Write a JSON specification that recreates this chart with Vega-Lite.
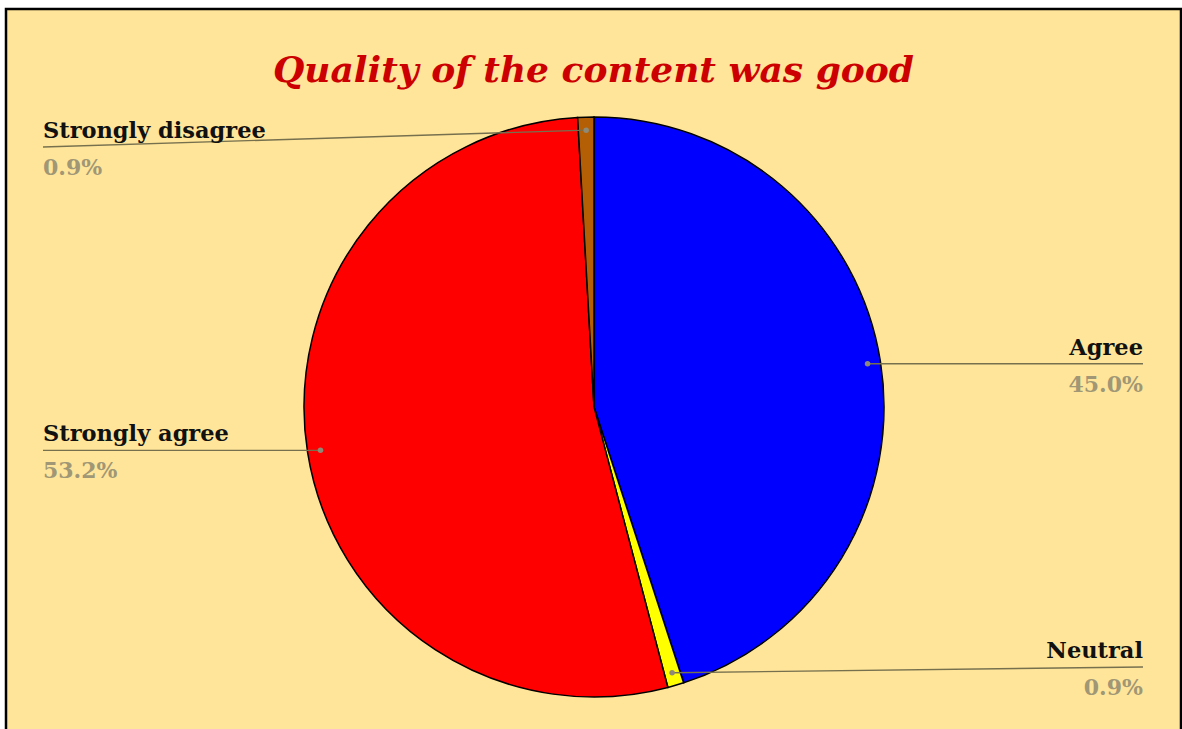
{
  "$schema": "https://vega.github.io/schema/vega-lite/v6.json",
  "width": 1175,
  "height": 722,
  "autosize": {"type": "none"},
  "padding": {"left": 6, "top": 9, "right": 1, "bottom": -2},
  "background": "white",
  "config": {
    "view": {"fill": "#FFE599", "stroke": "black", "strokeWidth": 2.5},
    "font": "DejaVu Serif"
  },
  "title": {
    "text": "Quality of the content was good",
    "font": "DejaVu Serif",
    "fontStyle": "italic",
    "fontWeight": "bold",
    "fontSize": 36,
    "color": "#CC0000",
    "anchor": "middle",
    "frame": "group",
    "baseline": "alphabetic",
    "offset": -109
  },
  "data": {
    "values": [
      {"category": "Agree", "pct": 45.0},
      {"category": "Neutral", "pct": 0.9},
      {"category": "Strongly agree", "pct": 53.2},
      {"category": "Strongly disagree", "pct": 0.9}
    ]
  },
  "transform": [
    {"window": [{"op": "sum", "field": "pct", "as": "cum"}], "sort": [{"field": "category", "order": "ascending"}], "frame": [null, 0]},
    {"joinaggregate": [{"op": "sum", "field": "pct", "as": "total"}]},
    {"calculate": "2 * PI * (datum.cum - datum.pct / 2) / datum.total", "as": "mid"},
    {"calculate": "0.955 * sin(datum.mid)", "as": "dx"},
    {"calculate": "0.955 * cos(datum.mid)", "as": "dy"},
    {"calculate": "datum.dx >= 0 ? 'right' : 'left'", "as": "side"},
    {"calculate": "datum.dx >= 0 ? 1.893 : -1.9", "as": "ex"},
    {"calculate": "clamp(datum.dy, -0.8966, 0.8966)", "as": "ly"},
    {"calculate": "format(datum.pct, '.1f') + '%'", "as": "label"}
  ],
  "layer": [
    {
      "mark": {"type": "arc", "outerRadius": 290, "stroke": "black", "strokeWidth": 1.5},
      "encoding": {
        "theta": {"field": "pct", "type": "quantitative", "stack": true},
        "order": {"field": "category", "type": "ordinal", "sort": "ascending"},
        "color": {
          "field": "category",
          "type": "nominal",
          "scale": {
            "domain": ["Agree", "Neutral", "Strongly agree", "Strongly disagree"],
            "range": ["#0000FF", "#FFFF00", "#FF0000", "#B45F06"]
          },
          "legend": null
        },
        "x": {"datum": 0, "type": "quantitative", "scale": {"domain": [-2.0276, 2.0241], "nice": false, "zero": false}, "axis": null},
        "y": {"datum": 0, "type": "quantitative", "scale": {"domain": [-1.1172, 1.3724], "nice": false, "zero": false}, "axis": null}
      }
    },
    {
      "mark": {"type": "rule", "color": "#76704f", "strokeWidth": 1.4},
      "encoding": {
        "x": {"field": "dx", "type": "quantitative"},
        "y": {"field": "dy", "type": "quantitative"},
        "x2": {"field": "ex"},
        "y2": {"field": "ly"}
      }
    },
    {
      "mark": {"type": "point", "filled": true, "color": "#8f8a78", "opacity": 1, "size": 30},
      "encoding": {
        "x": {"field": "dx", "type": "quantitative"},
        "y": {"field": "dy", "type": "quantitative"}
      }
    },
    {
      "transform": [{"filter": "datum.side == 'left'"}],
      "mark": {"type": "text", "align": "left", "baseline": "alphabetic", "dy": -9, "fontSize": 22.5, "fontWeight": "bold", "color": "#111111", "font": "DejaVu Serif"},
      "encoding": {
        "x": {"field": "ex", "type": "quantitative"},
        "y": {"field": "ly", "type": "quantitative"},
        "text": {"field": "category"}
      }
    },
    {
      "transform": [{"filter": "datum.side == 'right'"}],
      "mark": {"type": "text", "align": "right", "baseline": "alphabetic", "dy": -9, "fontSize": 22.5, "fontWeight": "bold", "color": "#111111", "font": "DejaVu Serif"},
      "encoding": {
        "x": {"field": "ex", "type": "quantitative"},
        "y": {"field": "ly", "type": "quantitative"},
        "text": {"field": "category"}
      }
    },
    {
      "transform": [{"filter": "datum.side == 'left'"}],
      "mark": {"type": "text", "align": "left", "baseline": "alphabetic", "dy": 28, "fontSize": 22, "fontWeight": "bold", "color": "#9f9775", "font": "DejaVu Serif"},
      "encoding": {
        "x": {"field": "ex", "type": "quantitative"},
        "y": {"field": "ly", "type": "quantitative"},
        "text": {"field": "label"}
      }
    },
    {
      "transform": [{"filter": "datum.side == 'right'"}],
      "mark": {"type": "text", "align": "right", "baseline": "alphabetic", "dy": 28, "fontSize": 22, "fontWeight": "bold", "color": "#9f9775", "font": "DejaVu Serif"},
      "encoding": {
        "x": {"field": "ex", "type": "quantitative"},
        "y": {"field": "ly", "type": "quantitative"},
        "text": {"field": "label"}
      }
    }
  ]
}
